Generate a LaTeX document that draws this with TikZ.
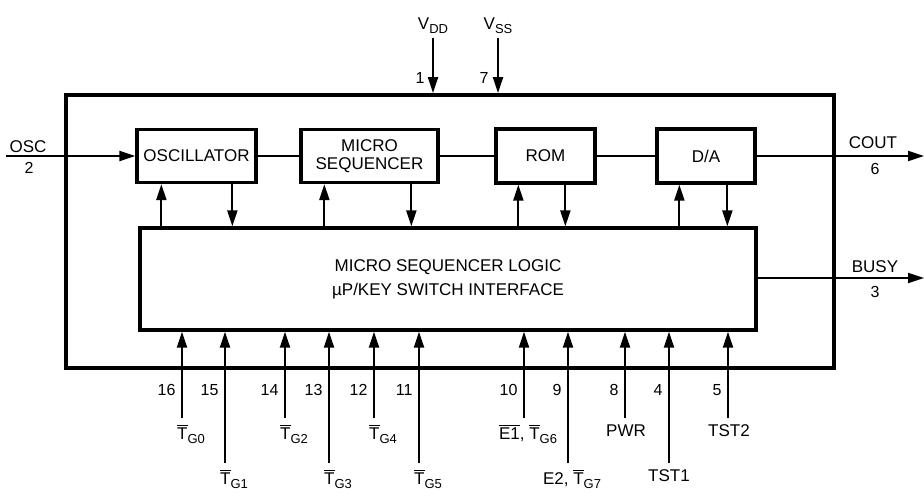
\documentclass[tikz,border=0pt]{standalone}
\usepackage{fontspec}
\setmainfont{Liberation Sans}
\usetikzlibrary{arrows.meta, positioning}

\newcommand{\barsig}[1]{\leavevmode\vbox{\hrule height 1.3pt \kern 1.8pt \hbox{#1}}}
\newcommand{\lowsub}[1]{\raisebox{-0.45ex}{\fontsize{13}{13}\selectfont #1}}
\newcommand{\tg}[1]{\barsig{T}\lowsub{G#1}}

\tikzset{
  chipbox/.style={draw, line width=3.8pt, minimum width=768pt, minimum height=273pt},
  blockbox/.style={draw, line width=3.3pt, align=center, inner sep=2pt},
  link/.style={line width=1.5pt},
  sig/.style={line width=2.1pt, -{Triangle[length=16pt, width=10pt]}},
  pinlbl/.style={font=\fontsize{16}{18}\selectfont},
}

\begin{document}
\begin{tikzpicture}[x=1pt, y=-1pt, font=\fontsize{17}{20}\selectfont]
  \useasboundingbox (0,0) rectangle (924,496);

  % package outline and blocks
  \node[chipbox] (chip) at (450,231.5) {};
  \node[blockbox, minimum width=616pt, minimum height=102pt] (logic) at (448,279)
    {MICRO SEQUENCER LOGIC\\[4pt] µP/KEY SWITCH INTERFACE};
  \node[blockbox, minimum width=119pt, minimum height=53pt] (osc) at (196.5,156) {OSCILLATOR};
  \node[blockbox, minimum width=137pt, minimum height=53pt] (mseq) at (369.5,156) {MICRO\\[-2pt]SEQUENCER};
  \node[blockbox, minimum width=99pt, minimum height=54pt] (rom) at (545.5,156) {ROM};
  \node[blockbox, minimum width=98pt, minimum height=54pt] (da) at (706,156) {D/A};

  \draw[link] (osc) -- (mseq) -- (rom) -- (da);

  % clock in, audio out, busy out
  \coordinate (oscin) at (6,156);
  \coordinate (coutend) at (924,156);
  \coordinate (busyend) at (924,278);
  \draw[sig] (oscin) -- (osc);
  \draw[sig] (da) -- (coutend);
  \draw[sig] (logic.east |- busyend) -- (busyend);
  \node (osclbl) at (28,147) {OSC};
  \node[pinlbl] (oscpin) at (29,168) {2};
  \node (coutlbl) at (873,143) {COUT};
  \node[pinlbl] (coutpin) at (875,169) {6};
  \node (busylbl) at (875,267) {BUSY};
  \node[pinlbl] (busypin) at (875,292) {3};

  % supplies
  \coordinate (vddin) at (433,38);
  \coordinate (vssin) at (498,38);
  \draw[sig] (vddin) -- (vddin |- chip.north);
  \draw[sig] (vssin) -- (vssin |- chip.north);
  \node[above=1pt of vddin] (vddlbl) {V\lowsub{DD}};
  \node[above=1pt of vssin] (vsslbl) {V\lowsub{SS}};
  \node[pinlbl, anchor=east] (vddpin) at (428,78) {1};
  \node[pinlbl, anchor=east] (vsspin) at (492,78) {7};

  % block <-> logic
  \foreach \b/\u/\d in {osc/26/97, mseq/25/112, rom/24/71, da/24/72} {
    \coordinate (\b-up) at ([xshift=\u pt]\b.south west);
    \coordinate (\b-dn) at ([xshift=\d pt]\b.south west);
    \draw[sig] (\b-up |- logic.north) -- (\b-up);
    \draw[sig] (\b-dn) -- (\b-dn |- logic.north);
  }

  % input pins
  \foreach \px/\py/\num/\txt/\dx in {
      182/418/16/{\tg{0}}/9, 225/463/15/{\tg{1}}/9, 285/418/14/{\tg{2}}/9,
      329/463/13/{\tg{3}}/9, 374/418/12/{\tg{4}}/9, 419/463/11/{\tg{5}}/9,
      524/418/10/{\barsig{E1}, \tg{6}}/4, 568/463/9/{E2, \tg{7}}/4,
      625/418/8/{PWR}/1, 669/463/4/{TST1}/0, 728/418/5/{TST2}/1} {
    \coordinate (pin\num) at (\px,\py);
    \draw[sig] (pin\num) -- (pin\num |- logic.south);
    \node[pinlbl, anchor=east] (num\num) at (\px-3,390) {\num};
    \node[anchor=north, xshift=\dx pt, yshift=-3pt] (lbl\num) at (pin\num) {\txt};
  }
\end{tikzpicture}
\end{document}
